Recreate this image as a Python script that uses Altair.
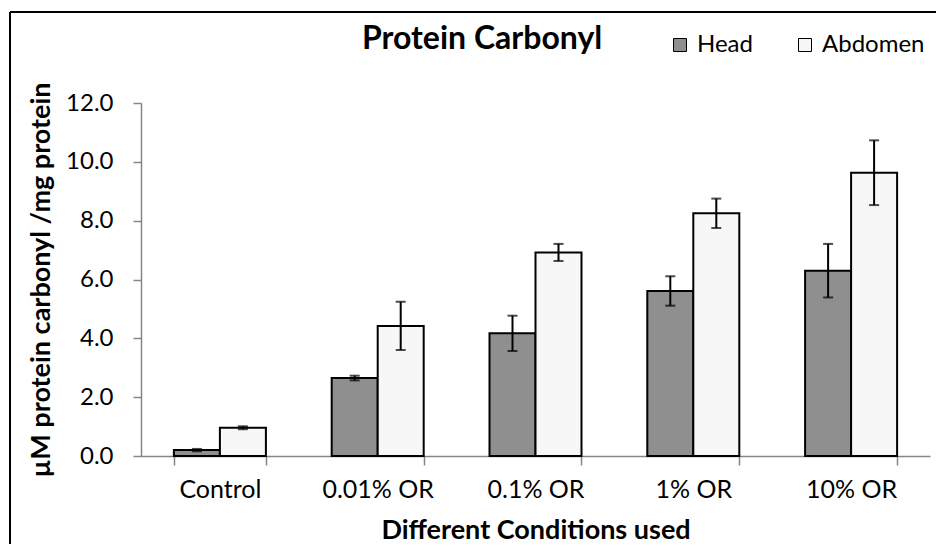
import altair as alt
import pandas as pd

conditions = ["Control", "0.01% OR", "0.1% OR", "1% OR", "10% OR"]
parts = ["Head", "Abdomen"]
head_mean = [0.20, 2.65, 4.17, 5.61, 6.30]
head_err = [0.04, 0.08, 0.60, 0.50, 0.91]
abd_mean = [0.96, 4.42, 6.92, 8.25, 9.63]
abd_err = [0.05, 0.82, 0.29, 0.50, 1.10]
y_ticks = [0, 2, 4, 6, 8, 10, 12]
chart_title = "Protein Carbonyl"

rows = []
for i, c in enumerate(conditions):
    rows.append({"cond": c, "part": "Head", "mean": head_mean[i], "err": head_err[i]})
    rows.append({"cond": c, "part": "Abdomen", "mean": abd_mean[i], "err": abd_err[i]})
df = pd.DataFrame(rows)

FONT = "Lato"
GRAY = "#868686"

base = alt.Chart(df).transform_calculate(
    lo="datum.mean - datum.err", hi="datum.mean + datum.err"
).encode(
    x=alt.X(
        "cond:N",
        sort=conditions,
        scale=alt.Scale(paddingInner=0.417, paddingOuter=0.2085),
        axis=alt.Axis(
            title="Different Conditions used",
            labelAngle=0,
            tickBand="extent",
            tickSize=9,
            tickColor=GRAY,
            tickWidth=1.5,
            domainColor=GRAY,
            domainWidth=1.5,
            labelFont=FONT,
            labelFontSize=25,
            labelColor="black",
            labelPadding=12,
            titleFont=FONT,
            titleFontSize=27,
            titleFontWeight="bold",
            titleColor="black",
            titlePadding=15,
        ),
    ),
    xOffset=alt.XOffset(
        "part:N", sort=parts, scale=alt.Scale(domain=parts, paddingInner=0, paddingOuter=0)
    ),
)

bars = base.mark_bar(stroke="black", strokeWidth=2).encode(
    y=alt.Y(
        "mean:Q",
        scale=alt.Scale(domain=[0, 12], nice=False),
        axis=alt.Axis(
            title="µM protein carbonyl /mg protein",
            values=y_ticks,
            format=".1f",
            grid=False,
            tickSize=8,
            tickColor=GRAY,
            tickWidth=1.5,
            domainColor=GRAY,
            domainWidth=1.5,
            labelFont=FONT,
            labelFontSize=24,
            labelColor="black",
            labelPadding=20,
            titleFont=FONT,
            titleFontSize=27,
            titleFontWeight="bold",
            titleColor="black",
            titlePadding=10,
        ),
    ),
    fill=alt.Fill(
        "part:N",
        sort=parts,
        scale=alt.Scale(domain=parts, range=["#8f8f8f", "#f7f7f7"]),
        legend=alt.Legend(
            title=None,
            orient="none",
            legendX=527,
            legendY=-70,
            direction="horizontal",
            symbolType="square",
            symbolSize=169,
            symbolStrokeColor="black",
            symbolStrokeWidth=1,
            labelFont=FONT,
            labelFontSize=24,
            labelColor="black",
            labelOffset=5,
            columnPadding=40,
            padding=0,
        ),
    ),
)

rules = base.mark_rule(color="black", strokeWidth=2).encode(y="lo:Q", y2="hi:Q")
cap_hi = base.mark_tick(color="black", thickness=2, size=10, orient="horizontal").encode(y="hi:Q")
cap_lo = base.mark_tick(color="black", thickness=2, size=10, orient="horizontal").encode(y="lo:Q")

frame_top = alt.Chart(df).mark_rule(color="black", strokeWidth=2).encode(
    x=alt.value(-131), x2=alt.value(800), y=alt.value(-91)
)
frame_left = alt.Chart(df).mark_rule(color="black", strokeWidth=2).encode(
    x=alt.value(-131), y=alt.value(-91), y2=alt.value(460)
)
title_text = alt.Chart(pd.DataFrame({"t": [chart_title]})).mark_text(
    font=FONT, fontSize=32, fontWeight="bold", color="black", align="left", baseline="alphabetic"
).encode(text="t:N", x=alt.value(221), y=alt.value(-54))

chart = alt.layer(frame_top, frame_left, title_text, bars, rules, cap_hi, cap_lo).properties(
    width=789,
    height=353,
    autosize=alt.AutoSizeParams(type="none"),
    padding={"left": 133, "top": 95, "right": 6, "bottom": 88},
).configure_view(stroke=None)

chart.save("out.html", embed_options={"renderer": "svg", "actions": False})
